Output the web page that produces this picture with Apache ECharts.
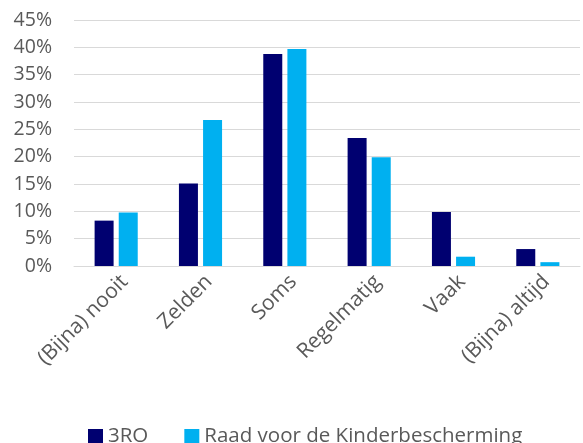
<!DOCTYPE html>
<html>
<head>
<meta charset="utf-8">
<script src="https://cdn.jsdelivr.net/npm/echarts@6/dist/echarts.min.js"></script>
<style>
  html, body { margin: 0; padding: 0; background: #fff; }
  #main { width: 583px; height: 443px; }
</style>
</head>
<body>
<div id="main"></div>
<script>
var categories = ['(Bijna) nooit', 'Zelden', 'Soms', 'Regelmatig', 'Vaak', '(Bijna) altijd'];
var driero = [8.3, 15.1, 38.8, 23.4, 9.9, 3.1];
var raad = [9.8, 26.7, 39.7, 19.9, 1.7, 0.7];

var myChart = echarts.init(document.getElementById('main'));

var option = {
    backgroundColor: '#fff',
    animation: false,
    textStyle: { fontFamily: 'Open Sans' },
    grid: { left: 74, right: 3, top: 20, bottom: 177 },
    legend: {
        top: 421,
        left: 83,
        itemWidth: 15,
        itemHeight: 15,
        itemGap: 36,
        icon: 'rect',
        textStyle: { color: '#595959', fontSize: 20.5, fontFamily: 'Open Sans' },
        data: ['3RO', 'Raad voor de Kinderbescherming']
    },
    xAxis: {
        type: 'category',
        data: categories,
        axisLine: { lineStyle: { color: '#d9d9d9', width: 1 } },
        axisTick: { show: false },
        axisLabel: {
            rotate: 45,
            color: '#595959',
            fontSize: 21,
            margin: 21,
            padding: [0, -12, 0, 0],
            interval: 0
        }
    },
    yAxis: {
        type: 'value',
        min: 0,
        max: 45,
        interval: 5,
        axisLine: { show: false },
        axisTick: { show: false },
        splitLine: { lineStyle: { color: '#d9d9d9', width: 1 } },
        axisLabel: {
            color: '#595959',
            fontSize: 19.5,
            margin: 22,
            formatter: '{value}%'
        }
    },
    series: [
        {
            name: '3RO',
            type: 'bar',
            data: driero,
            barWidth: 19,
            barGap: '27%',
            itemStyle: { color: '#000070' }
        },
        {
            name: 'Raad voor de Kinderbescherming',
            type: 'bar',
            data: raad,
            barWidth: 19,
            itemStyle: { color: '#00B0F0' }
        }
    ]
};

myChart.setOption(option);
</script>
</body>
</html>
